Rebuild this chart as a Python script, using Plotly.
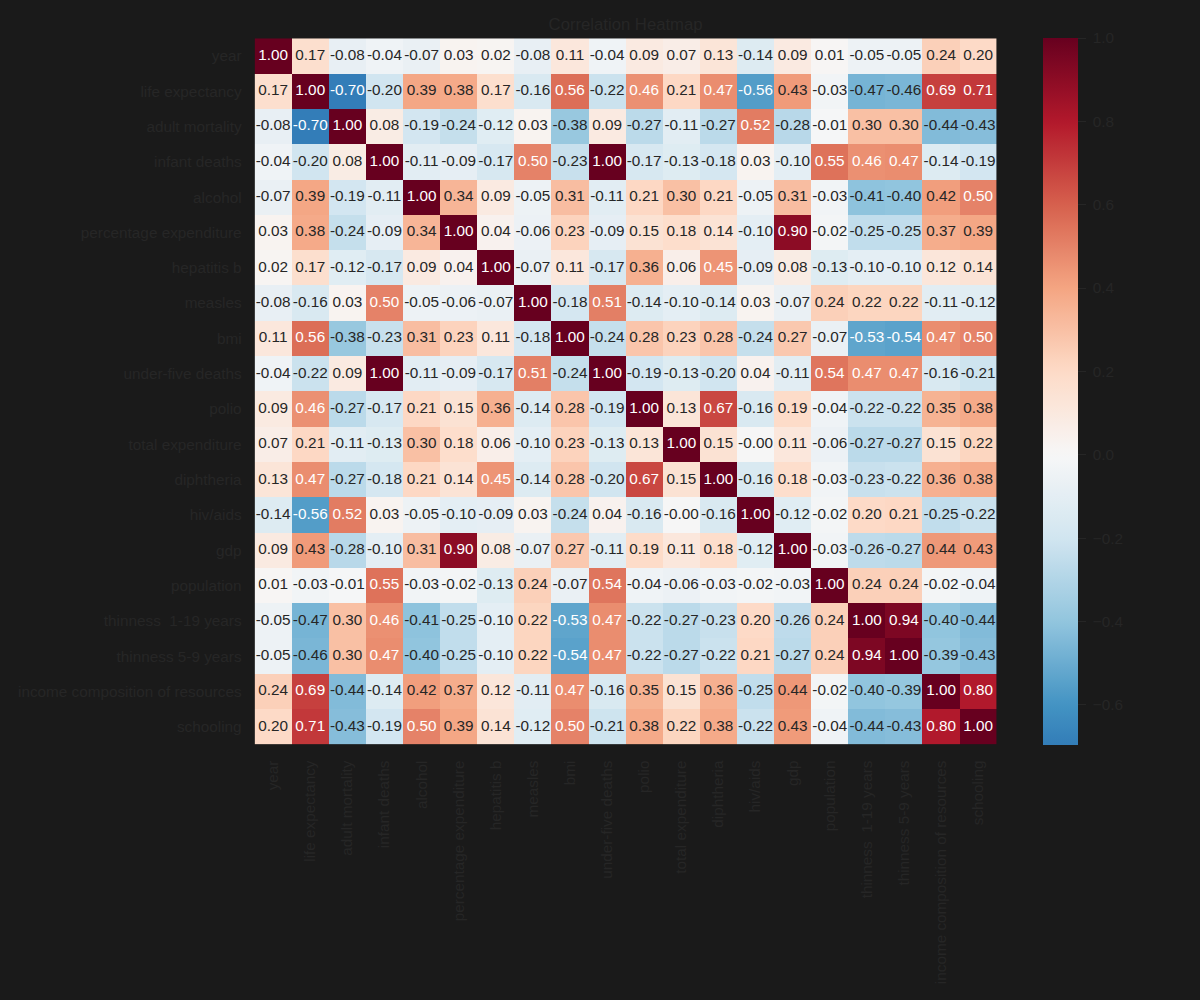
import plotly.graph_objects as go
import numpy as np

labels = ["year", "life expectancy", "adult mortality", "infant deaths", "alcohol",
          "percentage expenditure", "hepatitis b", "measles", "bmi", "under-five deaths",
          "polio", "total expenditure", "diphtheria", "hiv/aids", "gdp", "population",
          "thinness  1-19 years", "thinness 5-9 years", "income composition of resources",
          "schooling"]

corr = [
    [1.00, 0.17, -0.08, -0.04, -0.07, 0.03, 0.02, -0.08, 0.11, -0.04, 0.09, 0.07, 0.13, -0.14, 0.09, 0.01, -0.05, -0.05, 0.24, 0.20],
    [0.17, 1.00, -0.70, -0.20, 0.39, 0.38, 0.17, -0.16, 0.56, -0.22, 0.46, 0.21, 0.47, -0.56, 0.43, -0.03, -0.47, -0.46, 0.69, 0.71],
    [-0.08, -0.70, 1.00, 0.08, -0.19, -0.24, -0.12, 0.03, -0.38, 0.09, -0.27, -0.11, -0.27, 0.52, -0.28, -0.01, 0.30, 0.30, -0.44, -0.43],
    [-0.04, -0.20, 0.08, 1.00, -0.11, -0.09, -0.17, 0.50, -0.23, 1.00, -0.17, -0.13, -0.18, 0.03, -0.10, 0.55, 0.46, 0.47, -0.14, -0.19],
    [-0.07, 0.39, -0.19, -0.11, 1.00, 0.34, 0.09, -0.05, 0.31, -0.11, 0.21, 0.30, 0.21, -0.05, 0.31, -0.03, -0.41, -0.40, 0.42, 0.50],
    [0.03, 0.38, -0.24, -0.09, 0.34, 1.00, 0.04, -0.06, 0.23, -0.09, 0.15, 0.18, 0.14, -0.10, 0.90, -0.02, -0.25, -0.25, 0.37, 0.39],
    [0.02, 0.17, -0.12, -0.17, 0.09, 0.04, 1.00, -0.07, 0.11, -0.17, 0.36, 0.06, 0.45, -0.09, 0.08, -0.13, -0.10, -0.10, 0.12, 0.14],
    [-0.08, -0.16, 0.03, 0.50, -0.05, -0.06, -0.07, 1.00, -0.18, 0.51, -0.14, -0.10, -0.14, 0.03, -0.07, 0.24, 0.22, 0.22, -0.11, -0.12],
    [0.11, 0.56, -0.38, -0.23, 0.31, 0.23, 0.11, -0.18, 1.00, -0.24, 0.28, 0.23, 0.28, -0.24, 0.27, -0.07, -0.53, -0.54, 0.47, 0.50],
    [-0.04, -0.22, 0.09, 1.00, -0.11, -0.09, -0.17, 0.51, -0.24, 1.00, -0.19, -0.13, -0.20, 0.04, -0.11, 0.54, 0.47, 0.47, -0.16, -0.21],
    [0.09, 0.46, -0.27, -0.17, 0.21, 0.15, 0.36, -0.14, 0.28, -0.19, 1.00, 0.13, 0.67, -0.16, 0.19, -0.04, -0.22, -0.22, 0.35, 0.38],
    [0.07, 0.21, -0.11, -0.13, 0.30, 0.18, 0.06, -0.10, 0.23, -0.13, 0.13, 1.00, 0.15, -0.0, 0.11, -0.06, -0.27, -0.27, 0.15, 0.22],
    [0.13, 0.47, -0.27, -0.18, 0.21, 0.14, 0.45, -0.14, 0.28, -0.20, 0.67, 0.15, 1.00, -0.16, 0.18, -0.03, -0.23, -0.22, 0.36, 0.38],
    [-0.14, -0.56, 0.52, 0.03, -0.05, -0.10, -0.09, 0.03, -0.24, 0.04, -0.16, -0.0, -0.16, 1.00, -0.12, -0.02, 0.20, 0.21, -0.25, -0.22],
    [0.09, 0.43, -0.28, -0.10, 0.31, 0.90, 0.08, -0.07, 0.27, -0.11, 0.19, 0.11, 0.18, -0.12, 1.00, -0.03, -0.26, -0.27, 0.44, 0.43],
    [0.01, -0.03, -0.01, 0.55, -0.03, -0.02, -0.13, 0.24, -0.07, 0.54, -0.04, -0.06, -0.03, -0.02, -0.03, 1.00, 0.24, 0.24, -0.02, -0.04],
    [-0.05, -0.47, 0.30, 0.46, -0.41, -0.25, -0.10, 0.22, -0.53, 0.47, -0.22, -0.27, -0.23, 0.20, -0.26, 0.24, 1.00, 0.94, -0.40, -0.44],
    [-0.05, -0.46, 0.30, 0.47, -0.40, -0.25, -0.10, 0.22, -0.54, 0.47, -0.22, -0.27, -0.22, 0.21, -0.27, 0.24, 0.94, 1.00, -0.39, -0.43],
    [0.24, 0.69, -0.44, -0.14, 0.42, 0.37, 0.12, -0.11, 0.47, -0.16, 0.35, 0.15, 0.36, -0.25, 0.44, -0.02, -0.40, -0.39, 1.00, 0.80],
    [0.20, 0.71, -0.43, -0.19, 0.50, 0.39, 0.14, -0.12, 0.50, -0.21, 0.38, 0.22, 0.38, -0.22, 0.43, -0.04, -0.44, -0.43, 0.80, 1.00],
]

title_text = "Correlation Heatmap"

# ---- colormap (matplotlib RdBu_r, centred at 0 like seaborn center=0) ----
RDBU = ["#67001f", "#b2182b", "#d6604d", "#f4a582", "#fddbc7", "#f7f7f7",
        "#d1e5f0", "#92c5de", "#4393c3", "#2166ac", "#053061"]
RDBU_R = RDBU[::-1]
knots = np.array([[int(c[i:i + 2], 16) / 255.0 for i in (1, 3, 5)] for c in RDBU_R])


def cmap(p):
    p = min(max(p, 0.0), 1.0)
    pos = p * (len(knots) - 1)
    i = min(int(np.floor(pos)), len(knots) - 2)
    f = pos - i
    return knots[i] * (1 - f) + knots[i + 1] * f


def to_css(rgb):
    return "rgb(%d,%d,%d)" % tuple(int(round(v * 255)) for v in rgb)


Z = np.array(corr)
zmin = -0.696
zmax = 1.0
vrange = max(zmax, -zmin)

colorscale = []
for z in np.linspace(zmin, zmax, 80):
    colorscale.append([(z - zmin) / (zmax - zmin), to_css(cmap((z + vrange) / (2 * vrange)))])
colorscale[0][0] = 0.0
colorscale[-1][0] = 1.0


def lum(rgb):
    r = np.where(rgb <= 0.03928, rgb / 12.92, ((rgb + 0.055) / 1.055) ** 2.4)
    return float(r.dot([0.2126, 0.7152, 0.0722]))


tx, ty, tt, tc = [], [], [], []
for i, rl in enumerate(labels):
    for j, cl in enumerate(labels):
        v = Z[i, j]
        col = cmap((v + vrange) / (2 * vrange))
        tx.append(cl)
        ty.append(rl)
        tt.append(f"{v:.2f}")
        tc.append("#262626" if lum(col) > 0.408 else "#ffffff")

FONT = "Liberation Sans, Arial, sans-serif"
TXT = "#262626"
BG = "#1a1a1a"
FS = 15.3
n = len(labels)

fig = go.Figure()
fig.add_trace(go.Heatmap(
    z=Z, x=labels, y=labels,
    colorscale=colorscale, zmin=zmin, zmax=zmax,
    hoverinfo="skip",
    colorbar=dict(
        x=1043 / 1200, xanchor="left", xref="paper",
        y=1 - (38 + 745) / 2 / 1000, yanchor="middle", yref="paper",
        len=707 / 1000, lenmode="fraction", thickness=35,
        xpad=0, ypad=0, outlinewidth=0,
        tickmode="linear", tick0=0, dtick=0.2, tickformat=".1f",
        tickprefix="\u00a0",
        ticks="outside", ticklen=8, tickwidth=1, tickcolor=TXT,
        tickfont=dict(family=FONT, size=FS, color=TXT),
    ),
))
fig.add_trace(go.Scatter(
    x=tx, y=ty, text=tt, mode="text",
    textfont=dict(family=FONT, size=FS, color=tc),
    hoverinfo="skip", showlegend=False, cliponaxis=False,
))

fig.update_layout(
    width=1200, height=1000,
    margin=dict(l=0, r=0, t=0, b=0),
    paper_bgcolor=BG, plot_bgcolor=BG,
    showlegend=False,
    title=dict(text=title_text, x=625.6 / 1200, xanchor="center",
               y=1 - 24 / 1000, yanchor="middle",
               font=dict(family=FONT, size=16.7, color=TXT)),
    xaxis=dict(domain=[254.6 / 1200, 996.7 / 1200], tickangle=-90,
               range=[-0.5, n - 0.5], autorange=False,
               showgrid=False, zeroline=False, showline=False,
               ticks="", ticklabelstandoff=12,
               tickfont=dict(family=FONT, size=FS, color=TXT),
               categoryorder="array", categoryarray=labels),
    yaxis=dict(domain=[1 - 744.5 / 1000, 1 - 38.3 / 1000],
               range=[n - 0.5, -0.5], autorange=False,
               showgrid=False, zeroline=False, showline=False,
               ticks="", ticklabelstandoff=12,
               tickfont=dict(family=FONT, size=FS, color=TXT),
               categoryorder="array", categoryarray=labels),
)

fig.write_html("out.html")
